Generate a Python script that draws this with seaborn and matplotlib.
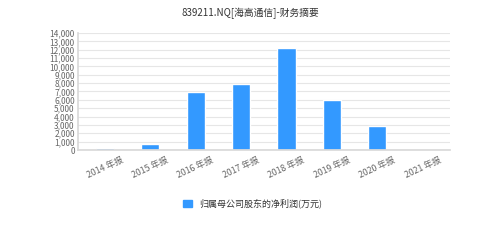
import matplotlib
matplotlib.use("Agg")
import matplotlib.pyplot as plt
import seaborn as sns
import pandas as pd
from matplotlib.patches import Patch

categories = ["2014 年报", "2015 年报", "2016 年报", "2017 年报", "2018 年报", "2019 年报", "2020 年报", "2021 年报"]
values = [250, 700, 6900, 7850, 12200, 5950, 2900, 0]
yticks = list(range(0, 14001, 1000))
title = "839211.NQ[海高通信]-财务摘要"
series_name = "归属母公司股东的净利润(万元)"

sns.set_theme(style="white")
plt.rcParams['font.family'] = ['Noto Sans CJK SC', 'DejaVu Sans']

df = pd.DataFrame({"cat": categories, "val": values})
fig = plt.figure(figsize=(5, 2.5), dpi=100)
ax = fig.add_axes([0.155, 0.4, 0.745, 0.468])
color = "#3399ff"
sns.barplot(data=df, x="cat", y="val", color=color, width=0.4, ax=ax, saturation=1)
ax.set_ylim(0, 14000)
ax.set_yticks(yticks)
ax.set_yticklabels([f"{v:,}" for v in yticks], fontsize=6, color="#666666")
ax.set_xticks(range(len(categories)))
ax.set_xticklabels(categories, rotation=25, ha="center", va="top", fontsize=6.3, color="#666666")
ax.set_xlabel("")
ax.set_ylabel("")
ax.grid(axis="y", color="#e6e6e6", linewidth=0.8)
ax.set_axisbelow(True)
for s in ["top", "right"]:
    ax.spines[s].set_visible(False)
ax.spines["left"].set_color("#d9d9d9")
ax.spines["bottom"].set_color("#d9d9d9")
ax.tick_params(axis="y", length=0, pad=2)
ax.tick_params(axis="x", length=0, pad=4)
ax.set_xlim(-0.6, len(categories) - 0.4)

fig.text(0.5, 0.945, title, ha="center", va="center", fontsize=7, color="#333333")
handle = Patch(facecolor=color, edgecolor=color)
fig.legend([handle], [series_name], loc="center", bbox_to_anchor=(0.505, 0.185),
           frameon=False, fontsize=6.5, handlelength=1.0, handleheight=0.7, labelcolor="#333333")
fig.savefig("out.png", dpi=100)
